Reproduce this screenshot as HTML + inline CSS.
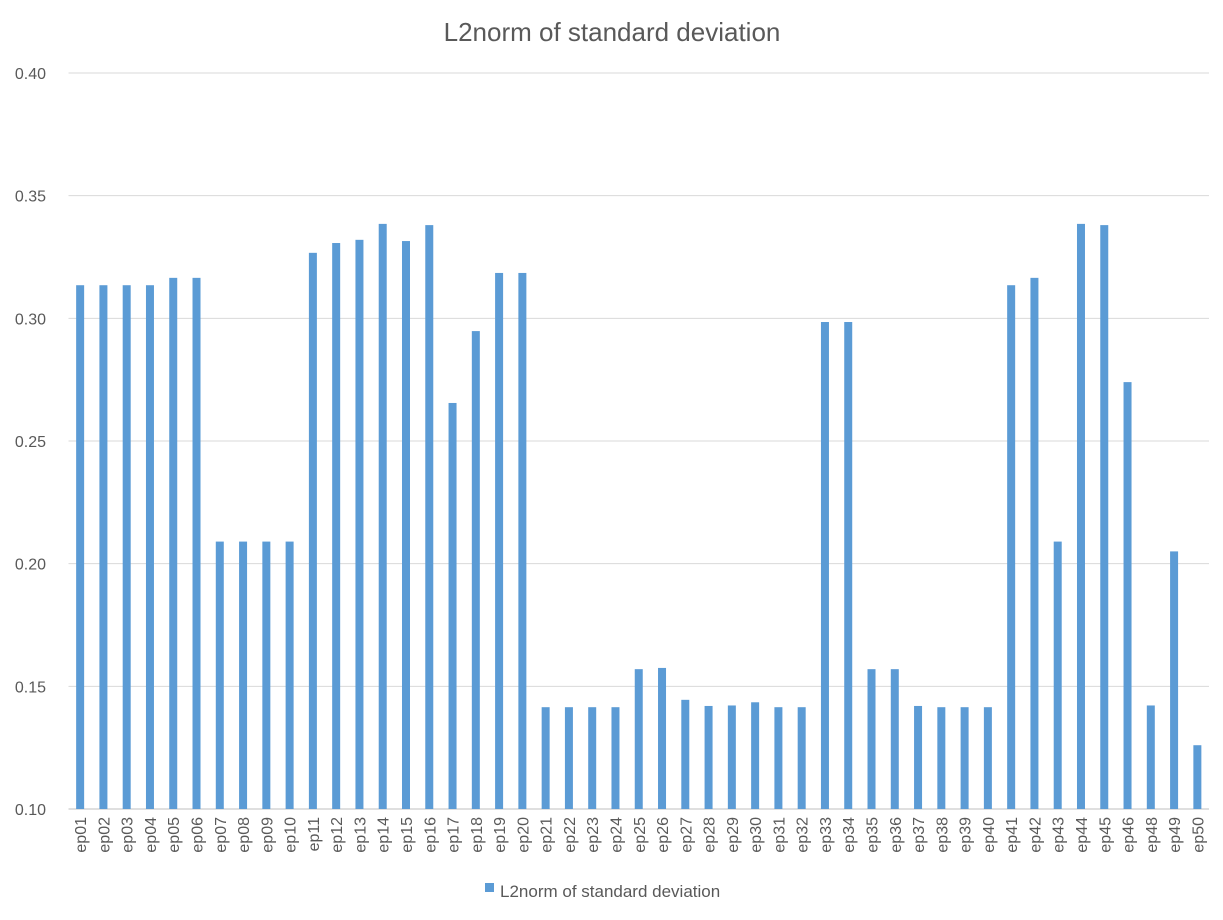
<!DOCTYPE html>
<html><head><meta charset="utf-8"><style>
body{margin:0;background:#fff;}
svg text{font-family:"Liberation Sans",sans-serif;fill:#595959;}
</style></head><body>
<svg id="chart" width="1223" height="915">
<text x="612" y="41" text-anchor="middle" font-size="26">L2norm of standard deviation</text>
<g id="grid"></g><g id="bars"></g><g id="xl"></g>
<rect x="485" y="883" width="9" height="9" fill="#5b9bd5"/>
<text x="500" y="897" font-size="17">L2norm of standard deviation</text>
</svg>
<script>
const categories=["ep01","ep02","ep03","ep04","ep05","ep06","ep07","ep08","ep09","ep10","ep11","ep12","ep13","ep14","ep15","ep16","ep17","ep18","ep19","ep20","ep21","ep22","ep23","ep24","ep25","ep26","ep27","ep28","ep29","ep30","ep31","ep32","ep33","ep34","ep35","ep36","ep37","ep38","ep39","ep40","ep41","ep42","ep43","ep44","ep45","ep46","ep48","ep49","ep50"];
const values=[0.3135,0.3135,0.3135,0.3135,0.3165,0.3165,0.209,0.209,0.209,0.209,0.3267,0.3307,0.332,0.3385,0.3315,0.338,0.2655,0.2948,0.3185,0.3185,0.1415,0.1415,0.1415,0.1415,0.157,0.1575,0.1445,0.142,0.1422,0.1435,0.1415,0.1415,0.2985,0.2985,0.157,0.157,0.142,0.1415,0.1415,0.1415,0.3135,0.3165,0.209,0.3385,0.338,0.274,0.1422,0.205,0.126];
const yTicks=[0.10,0.15,0.20,0.25,0.30,0.35,0.40];
const yMin=0.10,yMax=0.40,plotTop=73,plotBot=809,plotLeft=68.5,plotRight=1209;
const ns="http://www.w3.org/2000/svg";
const yS=v=>plotBot-(v-yMin)/(yMax-yMin)*(plotBot-plotTop);
const step=(plotRight-plotLeft)/categories.length;
const xc=i=>plotLeft+step*(i+0.5);
const grid=document.getElementById('grid'),bars=document.getElementById('bars'),xl=document.getElementById('xl');
yTicks.forEach(t=>{
 const l=document.createElementNS(ns,'line');
 
 
 l.setAttribute('x1',plotLeft);l.setAttribute('x2',plotRight);l.setAttribute('y1',yS(t));l.setAttribute('y2',yS(t));
 l.setAttribute('stroke',t===yMin?'#bfbfbf':'#d9d9d9');l.setAttribute('stroke-width','1');
 grid.appendChild(l);
 const tx=document.createElementNS(ns,'text');
 
 
 tx.setAttribute('x',46);tx.setAttribute('y',yS(t)+6);tx.setAttribute('text-anchor','end');tx.setAttribute('font-size','16');
 tx.textContent=t.toFixed(2);grid.appendChild(tx);
});
values.forEach((v,i)=>{
 const r=document.createElementNS(ns,'rect');
 
 
 r.setAttribute('x',xc(i)-4);r.setAttribute('width',8);r.setAttribute('y',yS(v));r.setAttribute('height',plotBot-yS(v));
 r.setAttribute('fill','#5b9bd5');bars.appendChild(r);
 const t=document.createElementNS(ns,'text');
 
 
 t.setAttribute('font-size','16');t.setAttribute('text-anchor','end');
 t.setAttribute('transform','translate('+(xc(i)+6)+',817) rotate(-90)');
 t.textContent=categories[i];xl.appendChild(t);
});
</script>
</body></html>
